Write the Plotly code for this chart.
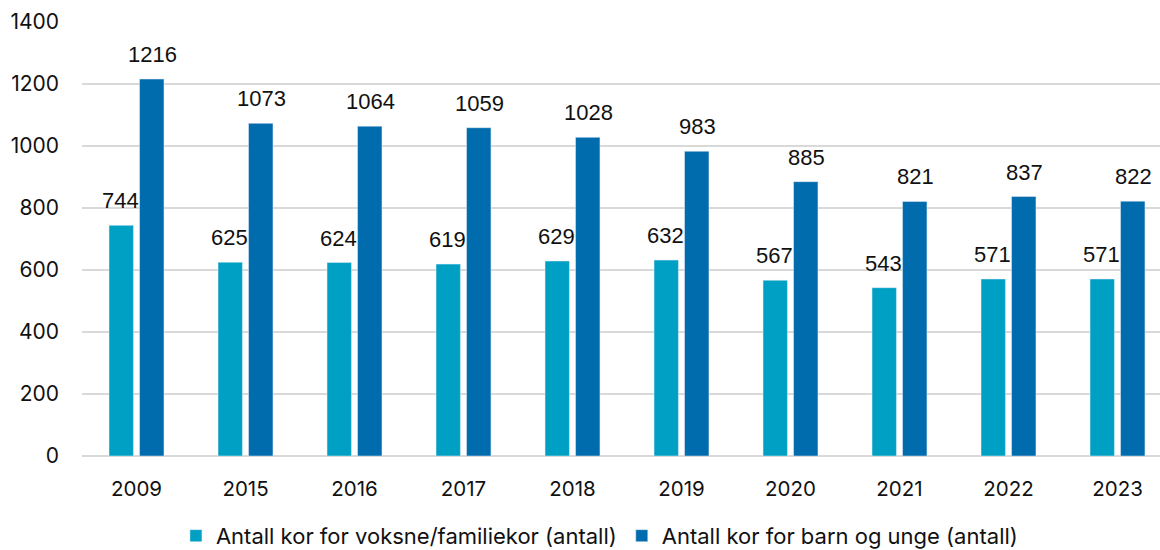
import plotly.graph_objects as go

years = ["2009", "2015", "2016", "2017", "2018", "2019", "2020", "2021", "2022", "2023"]
voksne = [744, 625, 624, 619, 629, 632, 567, 543, 571, 571]
barn = [1216, 1073, 1064, 1059, 1028, 983, 885, 821, 837, 822]

name_voksne = "Antall kor for voksne/familiekor (antall)"
name_barn = "Antall kor for barn og unge (antall)"

fig = go.Figure()
fig.add_trace(go.Bar(x=years, y=voksne, name=name_voksne, marker_color="#00A0C4"))
fig.add_trace(go.Bar(x=years, y=barn, name=name_barn, marker_color="#006BAD"))

# data labels as annotations (category index on x) so they keep full size
label_font = dict(size=22, color="#111111", family="Liberation Sans, Arial")
for i, v in enumerate(voksne):
    fig.add_annotation(x=i, y=v, text=str(v), showarrow=False, xshift=-16, yshift=10,
                       yanchor="bottom", font=label_font)
for i, v in enumerate(barn):
    fig.add_annotation(x=i, y=v, text=str(v), showarrow=False, xshift=16, yshift=10,
                       yanchor="bottom", font=label_font)

fig.update_layout(
    width=1160, height=550,
    margin=dict(l=82, r=0, t=22, b=94, autoexpand=False),
    plot_bgcolor="white", paper_bgcolor="white",
    font=dict(family="Inter, Liberation Sans, Arial", size=20, color="#111111"),
    barmode="group", bargap=0.44, bargroupgap=0.2,
    legend=dict(orientation="h", x=0.48, xanchor="center", y=-0.184, yanchor="middle",
                font=dict(size=22), tracegroupgap=0),
    xaxis=dict(type="category", range=[-0.5, 9.39], showgrid=False, ticks="", showline=False,
               ticklabelstandoff=18, tickfont=dict(size=20.5)),
    yaxis=dict(range=[0, 1400], dtick=200, gridcolor="#D9D9D9", gridwidth=1.5,
               zeroline=True, zerolinecolor="#D9D9D9", zerolinewidth=2,
               ticklabelstandoff=22, tickfont=dict(size=21)),
)

fig.write_html("out.html", config={"displayModeBar": False},
               post_script="document.body.style.margin='0';")
